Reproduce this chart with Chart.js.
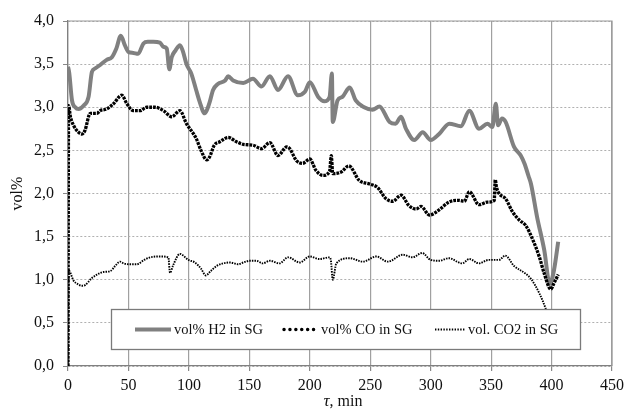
<!DOCTYPE html>
<html>
<head>
<meta charset="utf-8">
<script src="https://cdn.jsdelivr.net/npm/chart.js@4.4.1/dist/chart.umd.min.js"></script>
<style>
  html, body { margin: 0; padding: 0; background: #fff; }
  #wrap { width: 629px; height: 412px; }
</style>
</head>
<body>
<div id="wrap"><canvas id="chart" width="629" height="412"></canvas></div>
<script>
// values: time in min, gas content in vol%
const tH2 = [0, 1, 3.3, 6, 8.7, 13, 17, 19.8, 22.5, 26.6,
  32, 36.3, 40, 43.7, 47, 50, 54, 58, 62.4, 66,
  70.6, 76, 79, 81.7, 83.8, 85.8, 89, 92.6, 95, 98,
  102, 106, 109, 113, 117, 120, 124, 130, 132.5, 136.6,
  145, 153, 160, 167, 173.7, 182, 190, 196, 200, 207,
  212, 216.4, 218.3, 219, 223, 227, 233, 238, 245, 252,
  257.6, 266, 271, 275.5, 279.6, 286.5, 293.4, 300, 307, 315.4,
  325, 332, 340, 347, 351, 353.9, 355.8, 359, 362, 369,
  374.5, 377.5, 381, 383, 388, 394, 398.5, 402, 405.5];
const h2 = [3.47, 3.40, 3.08, 3.00, 2.98, 3.02, 3.12, 3.41, 3.45, 3.49,
  3.55, 3.58, 3.68, 3.83, 3.72, 3.64, 3.63, 3.62, 3.74, 3.76,
  3.76, 3.75, 3.70, 3.68, 3.44, 3.58, 3.66, 3.72, 3.65, 3.50,
  3.39, 3.20, 3.06, 2.93, 3.05, 3.20, 3.27, 3.31, 3.36, 3.31,
  3.28, 3.33, 3.24, 3.36, 3.20, 3.36, 3.14, 3.18, 3.29, 3.12,
  3.07, 3.12, 3.39, 2.83, 3.08, 3.12, 3.23, 3.08, 3.00, 2.97,
  3.01, 2.83, 2.81, 2.89, 2.75, 2.62, 2.71, 2.62, 2.69, 2.81,
  2.78, 2.96, 2.75, 2.81, 2.77, 3.04, 2.79, 2.87, 2.83, 2.54,
  2.44, 2.35, 2.20, 2.11, 1.73, 1.34, 0.95, 1.11, 1.44];

const tCO = [0, 0.5, 2, 4.6, 8.7, 11.5, 14, 18.4, 24, 26.6,
  32, 37.6, 44.5, 48.7, 54, 59.6, 65, 72, 79, 85.8,
  92.6, 98, 106, 110, 114.7, 117, 121, 125.6, 132.5, 139.4,
  145, 153, 160, 167, 173.7, 181, 183.4, 189, 194, 200,
  205, 210.9, 216.4, 217.8, 219, 226, 232.3, 241, 249.4, 256,
  263, 268.6, 275.5, 282, 288, 292, 299, 307, 315, 323.6,
  327.8, 332, 340, 347, 352.6, 353.4, 354.5, 356.6, 362, 367.6,
  373.5, 378.6, 384, 390, 394, 399.4, 402, 405.5];
const co = [0, 3.02, 2.89, 2.79, 2.71, 2.69, 2.73, 2.93, 2.93, 2.96,
  2.98, 3.04, 3.14, 3.04, 2.96, 2.96, 3.00, 3.00, 2.96, 2.89,
  2.96, 2.81, 2.64, 2.50, 2.39, 2.42, 2.56, 2.60, 2.65, 2.60,
  2.57, 2.56, 2.52, 2.59, 2.44, 2.54, 2.52, 2.38, 2.35, 2.40,
  2.27, 2.21, 2.26, 2.44, 2.23, 2.25, 2.32, 2.15, 2.11, 2.07,
  1.94, 1.91, 1.98, 1.86, 1.82, 1.85, 1.75, 1.81, 1.90, 1.92,
  1.91, 2.02, 1.87, 1.90, 1.92, 2.16, 2.07, 2.00, 1.94, 1.79,
  1.69, 1.63, 1.48, 1.26, 1.07, 0.89, 0.96, 1.06];

const tCO2 = [0, 0.5, 4.6, 8, 11.5, 14.3, 19.8, 24, 29.4, 35,
  39, 43, 46, 50, 57, 63, 68, 76, 83, 84.4,
  87, 92.6, 99.5, 105, 110, 114, 118, 123, 134, 140.7,
  145, 150.4, 156, 161, 167, 175, 182, 191.6, 200, 208,
  216.4, 217.5, 219, 222, 233, 244, 255, 264.5, 277, 285,
  293, 300, 307, 315, 326, 332, 340, 348, 356.6, 361.6,
  369, 378.6, 383, 390, 395, 400];
const co2 = [0, 1.11, 0.99, 0.95, 0.93, 0.94, 1.02, 1.06, 1.09, 1.10,
  1.16, 1.21, 1.19, 1.18, 1.18, 1.23, 1.26, 1.27, 1.26, 1.08,
  1.17, 1.30, 1.23, 1.20, 1.13, 1.05, 1.10, 1.16, 1.20, 1.18,
  1.20, 1.22, 1.22, 1.19, 1.22, 1.19, 1.26, 1.20, 1.27, 1.24,
  1.26, 1.22, 1.00, 1.19, 1.25, 1.21, 1.27, 1.21, 1.29, 1.26,
  1.31, 1.23, 1.22, 1.25, 1.19, 1.24, 1.19, 1.23, 1.23, 1.28,
  1.16, 1.07, 1.01, 0.84, 0.67, 0.45];

const seriesNames = ['vol% H2 in SG', 'vol% CO in SG', 'vol. CO2 in SG'];
const xRange = [0, 450];
const yRange = [0, 4];

const pts = (t, v) => t.map((x, i) => ({ x, y: v[i] }));
const FONT = '"Liberation Serif", "Times New Roman", serif';

// legend samples (dash pattern / cap as it appears in the legend)
const legendDash = [[], [0.1, 5.8], [1.4, 1.4]];
const legendCap = ['butt', 'round', 'butt'];

const frameAndLegend = {
  id: 'frameAndLegend',
  beforeDatasetsDraw(chart) {
    const { ctx, chartArea: a } = chart;
    ctx.save();
    ctx.strokeStyle = '#9a9a9a';
    ctx.lineWidth = 1.2;
    ctx.beginPath();
    ctx.moveTo(a.left, a.top);
    ctx.lineTo(a.right, a.top);
    ctx.lineTo(a.right, a.bottom);
    ctx.stroke();
    ctx.restore();
  },
  afterDraw(chart) {
    const ctx = chart.ctx;
    const ds = chart.data.datasets;
    ctx.save();
    // legend box
    ctx.fillStyle = '#fff';
    ctx.fillRect(111, 309, 469, 40);
    ctx.strokeStyle = '#7a7a7a';
    ctx.lineWidth = 1.3;
    ctx.strokeRect(111.5, 309.5, 469, 40);
    const starts = [135, 284, 435];
    const lens = [36, 34, 30];
    const y = 329.5;
    ds.forEach((d, i) => {
      ctx.save();
      ctx.strokeStyle = d.borderColor;
      ctx.lineWidth = i === 1 ? 3.4 : d.borderWidth;
      ctx.lineCap = legendCap[i];
      ctx.setLineDash(legendDash[i]);
      ctx.beginPath();
      ctx.moveTo(starts[i], y);
      ctx.lineTo(starts[i] + lens[i], y);
      ctx.stroke();
      ctx.restore();
      ctx.fillStyle = '#111';
      ctx.font = '14.5px ' + FONT;
      ctx.textBaseline = 'middle';
      ctx.textAlign = 'left';
      ctx.fillText(d.label, starts[i] + lens[i] + 3, y + 0.5);
    });
    // x axis title with italic tau
    const a = chart.chartArea;
    const cx = (a.left + a.right) / 2 + 3;
    ctx.font = 'italic 17px ' + FONT;
    const w1 = ctx.measureText('\u03C4').width;
    ctx.font = '16px ' + FONT;
    const w2 = ctx.measureText(', min').width;
    let x0 = cx - (w1 + w2) / 2;
    ctx.textBaseline = 'alphabetic';
    ctx.fillStyle = '#111';
    ctx.font = 'italic 17px ' + FONT;
    ctx.fillText('\u03C4', x0, 406);
    ctx.font = '16px ' + FONT;
    ctx.fillText(', min', x0 + w1, 406);
    ctx.restore();
  }
};

new Chart(document.getElementById('chart'), {
  type: 'line',
  data: {
    datasets: [
      { label: seriesNames[0], data: pts(tH2, h2), borderColor: '#808080', borderWidth: 4,
        pointRadius: 0, cubicInterpolationMode: 'monotone', order: 3 },
      { label: seriesNames[1], data: pts(tCO, co), borderColor: '#000', borderWidth: 3.3,
        borderDash: [2.8, 1], pointRadius: 0, cubicInterpolationMode: 'monotone', order: 1 },
      { label: seriesNames[2], data: pts(tCO2, co2), borderColor: '#000', borderWidth: 1.9,
        borderDash: [1.5, 1.1], pointRadius: 0, cubicInterpolationMode: 'monotone', order: 2 }
    ]
  },
  options: {
    responsive: false,
    animation: false,
    layout: { padding: { left: 0, right: 16, top: 21, bottom: 0 } },
    plugins: { legend: { display: false }, tooltip: { enabled: false } },
    scales: {
      x: {
        type: 'linear', min: xRange[0], max: xRange[1],
        ticks: { stepSize: 50, color: '#111', font: { family: FONT, size: 16 }, padding: 5, maxRotation: 0 },
        grid: { color: '#a0a0a0', lineWidth: 1.2, tickLength: 5, tickColor: '#888' },
        border: { color: '#808080', width: 1.3 },
        afterFit: s => { s.height = 46; }
      },
      y: {
        min: yRange[0], max: yRange[1],
        ticks: { stepSize: 0.5, color: '#111', font: { family: FONT, size: 16 }, padding: 9,
          callback: v => v.toFixed(1).replace('.', ',') },
        grid: { color: '#b0b0b0', lineWidth: 1, tickLength: 5, tickColor: '#888' },
        border: { color: '#808080', width: 1.3, dash: [2, 2] },
        title: { display: true, text: 'vol%', color: '#111', font: { family: FONT, size: 16 }, padding: { top: 8, bottom: 0 } },
        afterFit: s => { s.width = 68; }
      }
    }
  },
  plugins: [frameAndLegend]
});
</script>
</body>
</html>
